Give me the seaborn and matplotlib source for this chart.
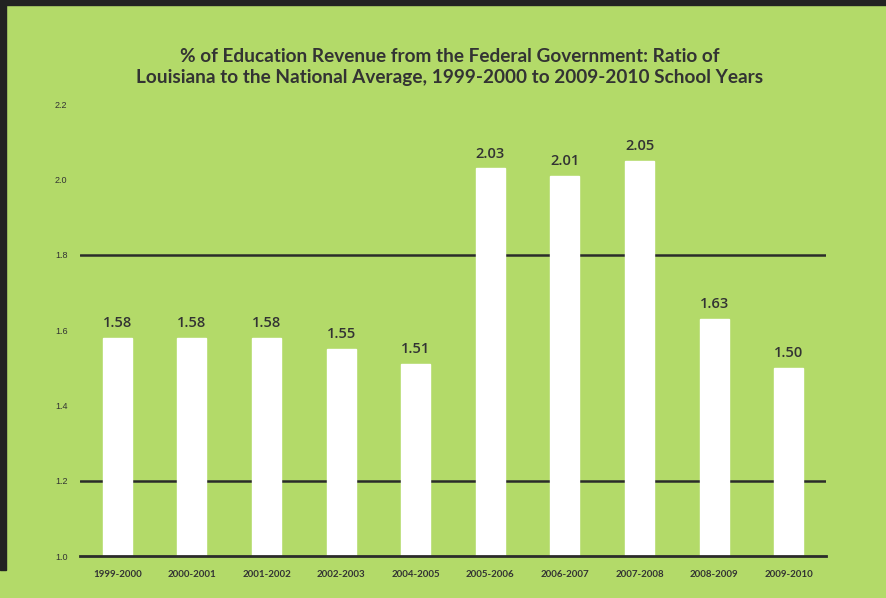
import matplotlib
matplotlib.use("Agg")
import matplotlib.pyplot as plt
import seaborn as sns
import pandas as pd
from matplotlib.patches import Rectangle

years = ["1999-2000", "2000-2001", "2001-2002", "2002-2003", "2004-2005",
         "2005-2006", "2006-2007", "2007-2008", "2008-2009", "2009-2010"]
ratios = [1.58, 1.58, 1.58, 1.55, 1.51, 2.03, 2.01, 2.05, 1.63, 1.50]
y_ticks = [1.0, 1.2, 1.4, 1.6, 1.8, 2.0, 2.2]
ref_lines = [1.2, 1.8]
title = ("% of Education Revenue from the Federal Government: Ratio of\n"
         "Louisiana to the National Average, 1999-2000 to 2009-2010 School Years")

GREEN = "#b3da69"
DARK = "#2b2c2a"
TEXT = "#333333"

sns.set_theme(style="white")
plt.rcParams["font.family"] = ["Lato", "DejaVu Sans"]

df = pd.DataFrame({"year": years, "ratio": ratios})

fig = plt.figure(figsize=(8.86, 5.98), dpi=100, facecolor=GREEN)
# dark frame pieces
fig.patches.append(Rectangle((0, 1 - 5 / 598), 1, 5 / 598, transform=fig.transFigure,
                             color="#222322", zorder=0))
fig.patches.append(Rectangle((0, 28 / 598), 6 / 886, 1, transform=fig.transFigure,
                             color="#222322", zorder=0))

ax = fig.add_axes([80 / 886, 42 / 598, 746 / 886, 452 / 598])
ax.set_facecolor(GREEN)

for v in ref_lines:
    ax.axhline(v, color=DARK, lw=1.8, zorder=1)

sns.barplot(data=df, x="year", y="ratio", color="white", width=0.39,
            saturation=1, ax=ax, zorder=2)

ax.set_ylim(1.0, 2.2)
ax.set_xlim(-0.5, len(years) - 0.5)

for i, v in enumerate(ratios):
    ax.text(i, v + 0.02, f"{v:.2f}", ha="center", va="bottom",
            fontsize=10.5, color=TEXT, fontweight=600, family=["Open Sans", "DejaVu Sans"])

# y ticks
ax.set_yticks(y_ticks)
ax.set_yticklabels([f"{t:.1f}" for t in y_ticks], fontsize=6.5, color=TEXT,
                   family=["Liberation Sans", "DejaVu Sans"])
ax.tick_params(axis="y", length=0, pad=9)

# x ticks: boundary marks, labels at centers
ax.set_xticks([i - 0.5 for i in range(len(years) + 1)])
ax.set_xticklabels([])
ax.tick_params(axis="x", which="major", length=4, width=1.8, color=DARK, direction="out")
ax.set_xticks(range(len(years)), minor=True)
ax.set_xticklabels(years, minor=True, fontsize=7, color=TEXT, fontweight="bold")
ax.tick_params(axis="x", which="minor", length=0, pad=10)

ax.set_xlabel("")
ax.set_ylabel("")
for s in ["top", "right", "left"]:
    ax.spines[s].set_visible(False)
ax.spines["bottom"].set_color(DARK)
ax.spines["bottom"].set_linewidth(2)

fig.text(450 / 886, 1 - 67 / 598, title, ha="center", va="center", fontsize=13.7,
         color=TEXT, fontweight="bold", linespacing=1.3)

fig.savefig("out.png", dpi=100, facecolor=GREEN)
